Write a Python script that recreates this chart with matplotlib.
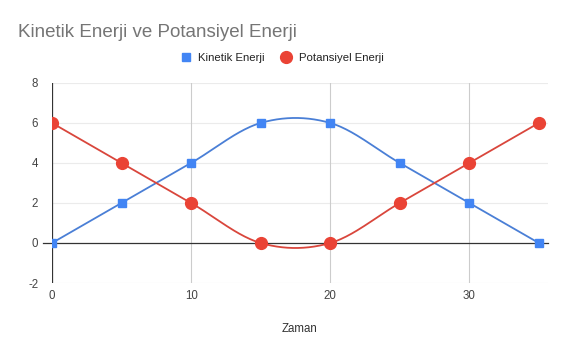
import numpy as np
import matplotlib
matplotlib.use("Agg")
import matplotlib.pyplot as plt
from matplotlib.lines import Line2D

plt.rcParams['font.family'] = ['Liberation Sans', 'DejaVu Sans']
plt.rcParams['axes.unicode_minus'] = False

# energy values over time
zaman = [0, 5, 10, 15, 20, 25, 30, 35]
kinetik = [0, 2, 4, 6, 6, 4, 2, 0]
potansiyel = [6, 4, 2, 0, 0, 2, 4, 6]

blue = "#4285F4"
red = "#EA4335"


def smooth(xs, ys, n=40):
    # cubic hermite through the points, catmull-rom style tangents
    xs = np.asarray(xs, float)
    ys = np.asarray(ys, float)
    m = np.zeros_like(ys)
    m[1:-1] = (ys[2:] - ys[:-2]) / 2
    m[0] = ys[1] - ys[0]
    m[-1] = ys[-1] - ys[-2]
    px, py = [], []
    for i in range(len(xs) - 1):
        t = np.linspace(0, 1, n)
        h00 = 2 * t**3 - 3 * t**2 + 1
        h10 = t**3 - 2 * t**2 + t
        h01 = -2 * t**3 + 3 * t**2
        h11 = t**3 - t**2
        px.append(xs[i] + t * (xs[i + 1] - xs[i]))
        py.append(h00 * ys[i] + h10 * m[i] + h01 * ys[i + 1] + h11 * m[i + 1])
    return np.concatenate(px), np.concatenate(py)


fig = plt.figure(figsize=(5.66, 3.5), dpi=100)
ax = fig.add_axes([0.0919, 0.1914, 0.8761, 0.5716])

sx, sy = smooth(zaman, kinetik)
ax.plot(sx, sy, color="#4a7fd6", lw=1.3, zorder=3)
ax.plot(zaman, kinetik, ls="none", marker="s", ms=6, color=blue, zorder=4)

sx, sy = smooth(zaman, potansiyel)
ax.plot(sx, sy, color="#d9463c", lw=1.3, zorder=3)
ax.plot(zaman, potansiyel, ls="none", marker="o", ms=8.5, color=red, zorder=4)

ax.set_xlim(0, 35.65)
ax.set_ylim(-2, 8)
ax.set_xticks([0, 10, 20, 30])
ax.set_yticks([-2, 0, 2, 4, 6, 8])

for y in [-2, 2, 4, 6, 8]:
    ax.axhline(y, color="#ebebeb", lw=0.8, zorder=1)
for x in [10, 20, 30]:
    ax.axvline(x, color="#cccccc", lw=0.8, zorder=1)
ax.axhline(0, color="#333333", lw=0.9, zorder=2, xmin=-0.018, clip_on=False)
ax.axvline(0, color="#333333", lw=0.9, zorder=2)

for s in ax.spines.values():
    s.set_visible(False)
ax.tick_params(length=0, labelsize=8.3, colors="#444444", pad=5)
ax.tick_params(axis="y", pad=10)

ax.set_xlabel("Zaman", fontsize=8.3, color="#333333", labelpad=15)

fig.text(0.032, 0.895, "Kinetik Enerji ve Potansiyel Enerji", fontsize=13.5,
         color="#757575", ha="left", va="baseline")

handles = [
    Line2D([], [], ls="none", marker="s", ms=6, color=blue),
    Line2D([], [], ls="none", marker="o", ms=8.5, color=red),
]
fig.legend(handles, ["Kinetik Enerji", "Potansiyel Enerji"], loc="center",
           bbox_to_anchor=(0.497, 0.834), ncol=2, frameon=False, fontsize=8.2,
           handletextpad=0.5, columnspacing=1.3, handlelength=1.2,
           labelcolor="#222222")

fig.savefig("out.png", dpi=100, facecolor="white")
